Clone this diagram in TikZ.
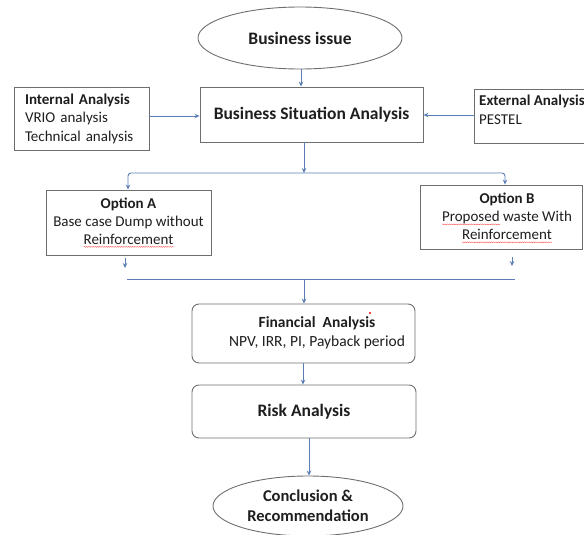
\documentclass[tikz,border=0pt]{standalone}
\usepackage{fontspec}
\setmainfont{Carlito}
\usetikzlibrary{shapes.geometric,arrows.meta,decorations.pathmorphing}
\definecolor{txt}{HTML}{1E1E1E}
\definecolor{bord}{HTML}{6E6E6E}
\definecolor{conn}{HTML}{5B7FB4}
\newsavebox\wavebox
\newcommand\redwave[1]{\sbox\wavebox{#1}\rlap{\tikz[baseline=0pt,x=1pt,y=1pt]{\draw[red!75, line width=0.3pt, decorate, decoration={snake, amplitude=0.5pt, segment length=2.2pt}] (0,-2.8) -- (\the\wd\wavebox,-2.8);}}\usebox\wavebox}
\tikzset{
  boxnode/.style={draw=bord, line width=0.9pt, text=txt, inner sep=0pt, font=\fontsize{15}{18.5}\selectfont, align=center},
  ovalnode/.style={ellipse, draw=bord, line width=0.9pt, text=txt, inner sep=0pt, align=center},
  roundnode/.style={boxnode, rounded corners=7pt},
  textnode/.style={inner sep=0pt, text=txt, align=center},
  arr/.style={draw=conn, line width=0.9pt, -{Stealth[length=5pt,width=4.5pt]}},
  plain/.style={draw=conn, line width=0.9pt},
}
\begin{document}
\begin{tikzpicture}[x=1pt,y=-1pt]
\useasboundingbox (0,0) rectangle (584,535);
\clip (0,0) rectangle (584,535);
% nodes
\node[ovalnode, minimum width=204pt, minimum height=62pt, font=\fontsize{17.5}{20}\selectfont\bfseries] (issue) at (300,38) {Business issue};
\node[boxnode, minimum width=223pt, minimum height=55pt, font=\fontsize{17.5}{20}\selectfont\bfseries] (bsa) at (311.5,114.5) {Business Situation Analysis};
\node[boxnode, minimum width=135pt, minimum height=63pt, align=left, text width=113pt] (int) at (81.5,118.5) {\textbf{Internal Analysis}\\VRIO analysis\\Technical analysis};
\node[boxnode, minimum width=140pt, minimum height=54pt] (ext) at (544,116) {};
\node[anchor=north west, textnode, align=left, font=\fontsize{15}{19}\selectfont] (extt) at (479,95) {\textbf{External Analysis}\\PESTEL};
\node[boxnode, minimum width=165pt, minimum height=65pt, font=\fontsize{15}{18}\selectfont] (opa) at (128.5,222.5) {\textbf{Option A}\\Base case Dump without\\\redwave{Reinforcement}};
\node[boxnode, minimum width=162pt, minimum height=64pt] (opb) at (501,217) {};
\node[textnode, font=\fontsize{15}{18}\selectfont] (opbt) at (507,218) {\textbf{Option B}\\\redwave{Proposed} waste With\\\redwave{Reinforcement}};
\node[roundnode, minimum width=223pt, minimum height=59pt] (fin) at (303.5,333.5) {};
\node[textnode, font=\fontsize{15.5}{19}\selectfont] (fint) at (317,333) {\textbf{Financial\ \ Analysis}\\NPV, IRR, PI, Payback period};
\node[roundnode, minimum width=224pt, minimum height=53pt, font=\fontsize{17.5}{20}\selectfont\bfseries] (risk) at (304,411.5) {Risk Analysis};
\node[ovalnode, minimum width=190pt, minimum height=60pt, font=\fontsize{16.5}{20}\selectfont\bfseries] (conc) at (308,506) {Conclusion \&\\Recommendation};
\fill[red] (370,313) circle (1.2pt);
% junction coordinates
\coordinate (j1) at (304,173);
\coordinate (jl) at (128,173);
\coordinate (jr) at (505,173);
\coordinate (sa) at (125,258);
\coordinate (sb) at (512,257);
\coordinate (l2a) at (127,279);
\coordinate (l2b) at (515,279);
\coordinate (j2) at (304,279);
% connectors
\draw[arr] (issue.south -| 301,0) -- (301,0 |- bsa.north);
\draw[arr] (int.east |- 0,116) -- (bsa.west |- 0,116);
\draw[arr] (ext.west |- 0,115) -- (bsa.east |- 0,115);
\draw[arr] (bsa.south -| j1) -- (j1);
\draw[plain, rounded corners=3pt, {Stealth[length=5pt,width=4.5pt]}-{Stealth[length=5pt,width=4.5pt]}] (opa.north -| jl) -- (jl) -- (jr) -- (opb.north -| jr);
\draw[arr] (sa) -- ++(0,10);
\draw[arr] (sb) -- ++(0,9);
\draw[plain] (l2a) -- (l2b);
\draw[arr] (j2) -- (fin.north -| j2);
\draw[arr] (fin.south -| 303,0) -- (303,0 |- risk.north);
\draw[arr] (risk.south -| 309,0) -- (309,0 |- conc.north);
\end{tikzpicture}
\end{document}
